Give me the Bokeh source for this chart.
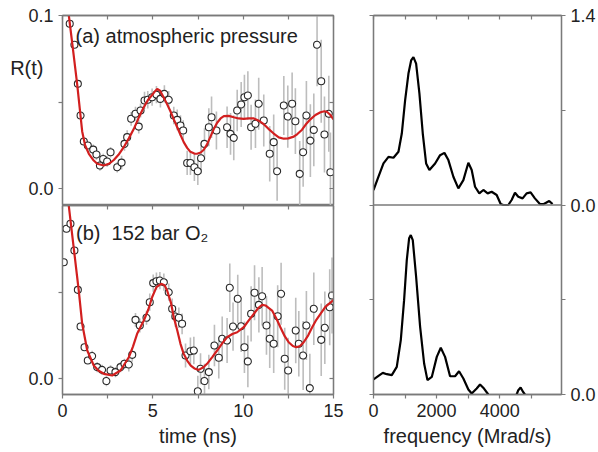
import numpy as np
from bokeh.plotting import figure
from bokeh.layouts import row, column
from bokeh.models import (LinearAxis, FixedTicker, Range1d, Label, NumeralTickFormatter,
                          CustomJSTickFormatter, Span)
from bokeh.embed import file_html
from bokeh.resources import INLINE

# ---------------- data ----------------
# (a) atmospheric pressure : measured R(t)
time_a = [0.40, 0.66, 0.85, 1.00, 1.18, 1.40, 1.70, 1.88, 2.07, 2.25, 2.47, 2.66, 3.03, 3.27,
          3.43, 3.58, 3.80, 4.04, 4.22, 4.32, 4.54, 4.72, 4.96, 5.20, 5.42, 5.64, 5.88, 6.16,
          6.35, 6.53, 6.68, 6.90, 7.08, 7.30, 7.49, 7.67, 7.86, 8.10, 8.25, 8.52, 9.11, 9.30,
          9.48, 9.67, 9.89, 10.07, 10.26, 10.44, 10.68, 10.86, 11.14, 11.47, 11.69, 11.88, 12.25,
          12.47, 12.71, 12.89, 13.13, 13.32, 13.50, 13.72, 13.91, 14.09, 14.32, 14.50, 14.74, 14.83]
r_a = [0.0952, 0.0831, 0.0605, 0.0422, 0.0272, 0.0249, 0.0225, 0.0197, 0.0133, 0.0171, 0.0156,
       0.0210, 0.0123, 0.0150, 0.0258, 0.0297, 0.0403, 0.0432, 0.0358, 0.0451, 0.0509, 0.0513,
       0.0528, 0.0543, 0.0518, 0.0547, 0.0513, 0.0422, 0.0397, 0.0364, 0.0335, 0.0148, 0.0148,
       0.0123, 0.0100, 0.0175, 0.0258, 0.0354, 0.0412, 0.0335, 0.0354, 0.0316, 0.0293, 0.0451,
       0.0486, 0.0528, 0.0538, 0.0354, 0.0374, 0.0490, 0.0393, 0.0201, 0.0268, 0.0100, 0.0480,
       0.0416, 0.0490, 0.0389, 0.0085, 0.0210, 0.0422, 0.0277, 0.0339, 0.0831, 0.0620, 0.0312,
       0.0432, 0.0094]
err_a = [0.002, 0.002, 0.002, 0.002, 0.002, 0.002, 0.003, 0.003, 0.003, 0.003, 0.003, 0.003,
         0.003, 0.004, 0.004, 0.004, 0.004, 0.004, 0.004, 0.004, 0.005, 0.005, 0.005, 0.005,
         0.005, 0.005, 0.005, 0.005, 0.006, 0.006, 0.006, 0.007, 0.007, 0.008, 0.008, 0.009,
         0.009, 0.011, 0.012, 0.011, 0.012, 0.012, 0.013, 0.012, 0.013, 0.013, 0.014, 0.013,
         0.014, 0.015, 0.015, 0.016, 0.016, 0.017, 0.017, 0.018, 0.018, 0.019, 0.019, 0.020,
         0.020, 0.021, 0.021, 0.024, 0.024, 0.022, 0.022, 0.023]
# (a) fit
fit_t_a = [0.25, 0.35, 0.55, 0.81, 1.09, 1.25, 1.46, 1.70, 1.92, 2.29, 2.60, 2.84, 3.10, 3.39,
           3.67, 3.95, 4.22, 4.50, 4.75, 4.96, 5.10, 5.24, 5.40, 5.61, 5.80, 5.98, 6.16, 6.35,
           6.53, 6.71, 6.90, 7.08, 7.30, 7.45, 7.65, 7.82, 8.00, 8.19, 8.38, 8.56, 8.75, 8.93,
           9.20, 9.48, 9.75, 10.03, 10.30, 10.59, 10.90, 11.14, 11.40, 11.69, 11.97, 12.25, 12.50,
           12.80, 13.00, 13.26, 13.50, 13.72, 14.00, 14.28, 14.50, 14.65, 14.83, 15.0]
fit_r_a = [0.107, 0.100, 0.083, 0.0605, 0.0330, 0.0250, 0.0201, 0.0165, 0.0143, 0.0133, 0.0145,
           0.0165, 0.0195, 0.0239, 0.0290, 0.0345, 0.0410, 0.0470, 0.0515, 0.0540, 0.0560, 0.0576,
           0.0565, 0.0525, 0.0485, 0.0445, 0.0400, 0.0354, 0.0310, 0.0268, 0.0235, 0.0212, 0.0202,
           0.0201, 0.0208, 0.0224, 0.0255, 0.0300, 0.0345, 0.0380, 0.0405, 0.0418, 0.0420, 0.0412,
           0.0405, 0.0403, 0.0405, 0.0405, 0.0390, 0.0372, 0.0345, 0.0318, 0.0296, 0.0288, 0.0290,
           0.0300, 0.0315, 0.0340, 0.0375, 0.0400, 0.0425, 0.0441, 0.0447, 0.0442, 0.0425, 0.0400]

# (b) 152 bar O2 : measured R(t)
time_b = [0.07, 0.22, 0.44, 0.66, 0.85, 1.00, 1.22, 1.40, 1.64, 1.92, 2.19, 2.43, 2.66, 2.93,
          3.21, 3.43, 3.67, 3.86, 4.04, 4.28, 4.65, 4.83, 5.02, 5.20, 5.39, 5.61, 5.88, 6.07,
          6.25, 6.44, 6.62, 6.81, 7.08, 7.27, 7.49, 7.64, 7.86, 8.10, 8.41, 8.65, 8.84, 9.11,
          9.26, 9.44, 9.70, 9.89, 10.07, 10.26, 10.44, 10.63, 10.87, 11.05, 11.29, 11.47, 11.69,
          11.91, 12.10, 12.30, 12.49, 12.91, 13.08, 13.32, 13.50, 13.69, 13.91, 14.32, 14.52,
          14.79, 14.92]
r_b = [0.0674, 0.0868, 0.0897, 0.0742, 0.0514, 0.0301, 0.0181, 0.0104, 0.0130, 0.0066, 0.0050,
       -0.0015, 0.0046, 0.0037, 0.0066, 0.0085, 0.0081, 0.0137, 0.0340, 0.0307, 0.0352, 0.0442,
       0.0553, 0.0564, 0.0568, 0.0558, 0.0500, 0.0404, 0.0359, 0.0352, 0.0317, 0.0133, 0.0158,
       0.0162, -0.0074, 0.0056, -0.0015, 0.0037, 0.0191, 0.0120, 0.0230, 0.0220, 0.0526, 0.0301,
       0.0462, 0.0303, 0.0181, 0.0099, 0.0375, 0.0497, 0.0427, 0.0477, 0.0307, 0.0230, 0.0201,
       0.0361, 0.0491, 0.0114, 0.0046, 0.0278, 0.0201, 0.0133, 0.0307, -0.0056, 0.0404, 0.0224,
       0.0294, 0.0413, 0.0481]
err_b = [0.002, 0.002, 0.002, 0.002, 0.002, 0.002, 0.002, 0.002, 0.003, 0.003, 0.003, 0.003,
         0.003, 0.003, 0.003, 0.003, 0.004, 0.004, 0.004, 0.004, 0.004, 0.005, 0.005, 0.005,
         0.005, 0.005, 0.005, 0.006, 0.006, 0.006, 0.006, 0.007, 0.008, 0.008, 0.009, 0.009,
         0.010, 0.010, 0.012, 0.012, 0.013, 0.013, 0.014, 0.014, 0.014, 0.015, 0.015, 0.015,
         0.016, 0.016, 0.016, 0.017, 0.017, 0.017, 0.017, 0.018, 0.018, 0.018, 0.019, 0.019,
         0.019, 0.020, 0.020, 0.020, 0.021, 0.021, 0.021, 0.022, 0.022]
# (b) fit
fit_t_b = [0.25, 0.35, 0.66, 0.90, 1.09, 1.37, 1.73, 2.00, 2.29, 2.75, 3.21, 3.67, 3.90, 4.13,
           4.50, 4.75, 4.96, 5.20, 5.46, 5.65, 5.79, 6.00, 6.16, 6.35, 6.53, 6.70, 6.90, 7.10,
           7.30, 7.54, 7.80, 8.00, 8.30, 8.56, 8.85, 9.11, 9.40, 9.67, 10.03, 10.30, 10.59, 10.85,
           11.05, 11.25, 11.60, 11.85, 12.06, 12.30, 12.52, 12.75, 12.94, 13.15, 13.35, 13.60,
           13.82, 14.05, 14.28, 14.55, 14.83, 15.0]
fit_r_b = [0.107, 0.100, 0.0723, 0.0510, 0.0317, 0.0162, 0.0075, 0.0045, 0.0027, 0.0017, 0.0046,
           0.0123, 0.0185, 0.0259, 0.0336, 0.0400, 0.0471, 0.0530, 0.0549, 0.0540, 0.0510, 0.0440,
           0.0355, 0.0280, 0.0201, 0.0145, 0.0104, 0.0075, 0.0058, 0.0050, 0.0065, 0.0085, 0.0125,
           0.0162, 0.0205, 0.0239, 0.0258, 0.0268, 0.0297, 0.0335, 0.0375, 0.0410, 0.0427, 0.0423,
           0.0394, 0.0345, 0.0297, 0.0245, 0.0210, 0.0188, 0.0181, 0.0188, 0.0210, 0.0250, 0.0297,
           0.0340, 0.0375, 0.0415, 0.0440, 0.0455]

# spectra (frequency in Mrad/s)
freq_a = [0, 158, 316, 475, 633, 791, 897, 1003, 1108, 1193, 1266, 1351, 1456, 1562, 1668, 1772,
          1953, 2111, 2248, 2374, 2532, 2690, 2849, 3007, 3113, 3219, 3355, 3482, 3619, 3746, 3905,
          4032, 4116, 4274, 4379, 4485, 4590, 4727, 4854, 4981, 5117, 5275, 5400, 5571, 5677]
amp_a = [0.11, 0.209, 0.307, 0.356, 0.349, 0.393, 0.528, 0.774, 0.971, 1.068, 1.093, 1.044, 0.823,
         0.528, 0.307, 0.258, 0.307, 0.368, 0.385, 0.332, 0.209, 0.123, 0.184, 0.312, 0.258, 0.135,
         0.086, 0.111, 0.086, 0.098, 0.074, 0.007, 0.0, 0.0, 0.037, 0.091, 0.061, 0.049, 0.086,
         0.093, 0.049, 0.007, 0.007, 0.029, 0.007]
nan = float("nan")
freq_b = [0, 158, 295, 422, 580, 738, 865, 970, 1055, 1129, 1182, 1245, 1351, 1478, 1605, 1710,
          1848, 2006, 2133, 2269, 2427, 2586, 2712, 2849, 3007, 3113, 3271, 3377, 3503, 3640, nan,
          4538, 4590, 4664, 4748, 4800]
amp_b = [0.111, 0.138, 0.160, 0.150, 0.143, 0.204, 0.402, 0.697, 0.993, 1.154, 1.178, 1.141,
         0.870, 0.500, 0.229, 0.106, 0.130, 0.278, 0.345, 0.278, 0.135, 0.135, 0.172, 0.118, 0.037,
         0.007, 0.044, 0.074, 0.044, 0.0, nan, 0.0, 0.032, 0.052, 0.017, 0.0]

# ---------------- style ----------------
FONT = "Liberation Sans"
AX = "#7a7a7a"
TXT = "#222222"
RED = "#d21f1f"
TICK_FS = "18px"
LAB_FS = "20px"

BLANK = CustomJSTickFormatter(code="return ''")


def make_fig(w, h, xr, yr, bl, br, bt, bb):
    p = figure(width=w, height=h, x_range=Range1d(*xr), y_range=Range1d(*yr),
               x_axis_type=None, y_axis_type=None, output_backend="svg",
               toolbar_location=None, min_border_left=bl, min_border_right=br,
               min_border_top=bt, min_border_bottom=bb)
    p.outline_line_color = AX
    p.outline_line_width = 1.3
    p.background_fill_color = "white"
    p.border_fill_color = "white"
    return p


def add_axis(p, loc, ticks, minor, labels=False, fmt="0.0", tick_in=False, formatter=None):
    ax = LinearAxis(ticker=FixedTicker(ticks=ticks, minor_ticks=minor))
    ax.axis_line_color = AX
    ax.axis_line_width = 1.3
    ax.major_tick_line_color = AX
    ax.minor_tick_line_color = AX
    ax.major_tick_line_width = 1.2
    ax.minor_tick_line_width = 1.2
    if tick_in:
        ax.major_tick_in, ax.major_tick_out = 4, 0
        ax.minor_tick_in, ax.minor_tick_out = 4, 0
    else:
        ax.major_tick_in, ax.major_tick_out = 0, 4
        ax.minor_tick_in, ax.minor_tick_out = 0, 4
    if labels:
        ax.formatter = formatter if formatter is not None else NumeralTickFormatter(format=fmt)
        ax.major_label_text_font = FONT
        ax.major_label_text_font_size = TICK_FS
        ax.major_label_text_color = TXT
        ax.major_label_standoff = 5
    else:
        ax.formatter = BLANK
        ax.major_label_text_alpha = 0
        ax.major_label_standoff = 0
    p.add_layout(ax, loc)
    return ax


def style_axis_label(ax, text, standoff=5):
    ax.axis_label = text
    ax.axis_label_text_font = FONT
    ax.axis_label_text_font_size = LAB_FS
    ax.axis_label_text_font_style = "normal"
    ax.axis_label_text_color = TXT
    ax.axis_label_standoff = standoff


def data_panel(p, t, r, e, ft, fr):
    lo = [ri - ei for ri, ei in zip(r, e)]
    hi = [ri + ei for ri, ei in zip(r, e)]
    p.segment(x0=t, y0=lo, x1=t, y1=hi, line_color="#bdbdbd", line_width=1.6)
    p.scatter(t, r, marker="circle", size=7, fill_color="white", line_color="#2a2a2a",
              line_width=1.1)
    p.line(ft, fr, line_color=RED, line_width=2.2)


T_RANGE = (0, 15)
F_RANGE = (0, 5960)

# ---- top-left: (a)
tl = make_fig(345, 205, T_RANGE, (-0.0098, 0.1), 62, 12, 15, 0)
ly = add_axis(tl, "left", [0.0, 0.1], [0.05], labels=True)
# label sits near the top of the axis, below the 0.1 tick label
style_axis_label(ly, "\n\n\n\nR(t)", standoff=-18)
ly.axis_label_orientation = "horizontal"
if "axis_label_align" in ly.properties():
    ly.axis_label_align = "end"
add_axis(tl, "above", [0, 5, 10, 15], [2.5, 7.5, 12.5], tick_in=True)
add_axis(tl, "right", [0.0, 0.1], [0.05], tick_in=True)
data_panel(tl, time_a, r_a, err_a, fit_t_a, fit_r_a)
tl.add_layout(Label(x=0.72, y=0.0879, text="(a) atmospheric pressure", text_font=FONT,
                    text_font_size=LAB_FS, text_color=TXT, text_baseline="middle"))

# ---- bottom-left: (b)
blf = make_fig(345, 247, T_RANGE, (-0.0093, 0.1003), 62, 12, 0, 58)
add_axis(blf, "left", [0.0], [0.05], labels=True)
add_axis(blf, "right", [0.0], [0.05], tick_in=True)
add_axis(blf, "above", [0, 5, 10, 15], [2.5, 7.5, 12.5], tick_in=True)
bx = add_axis(blf, "below", [0, 5, 10, 15], [2.5, 7.5, 12.5], labels=True, fmt="0")
style_axis_label(bx, "time (ns)")
data_panel(blf, time_b, r_b, err_b, fit_t_b, fit_r_b)
blf.add_layout(Label(x=0.75, y=0.0841, text="(b)\u00a0 152 bar O\u2082", text_font=FONT,
                     text_font_size=LAB_FS, text_color=TXT, text_baseline="middle"))

# ---- right column: both spectra, upper panel on the default y range,
#      lower panel on its own range ("low") occupying the lower half of the frame
rf = make_fig(253, 452, F_RANGE, (-1.4, 1.4), 28, 36, 15, 58)
rf.extra_y_ranges = {"low": Range1d(0, 2.8)}
spec_fmt = CustomJSTickFormatter(
    code="return (tick < -1e-9 ? tick + 1.4 : tick).toFixed(1)")
add_axis(rf, "left", [-1.4, 0.0, 1.4], [-0.7, 0.7])
add_axis(rf, "right", [-1.4, 0.0, 1.4], [-0.7, 0.7], labels=True, formatter=spec_fmt)
add_axis(rf, "above", [0, 2000, 4000, 6000], [1000, 3000, 5000], tick_in=True)
fx = add_axis(rf, "below", [0, 2000, 4000], [1000, 3000, 5000], labels=True, fmt="0")
style_axis_label(fx, "frequency (Mrad/s)")
rf.add_layout(Span(location=0.0, dimension="width", line_color=AX, line_width=1.3))
rf.line(freq_a, amp_a, line_color="black", line_width=2.2)
rf.line(np.array(freq_b, dtype=float), np.array(amp_b, dtype=float), line_color="black",
        line_width=2.2, y_range_name="low")

layout = row(column(tl, blf), rf)
open("out.html", "w").write(file_html(layout, INLINE))
